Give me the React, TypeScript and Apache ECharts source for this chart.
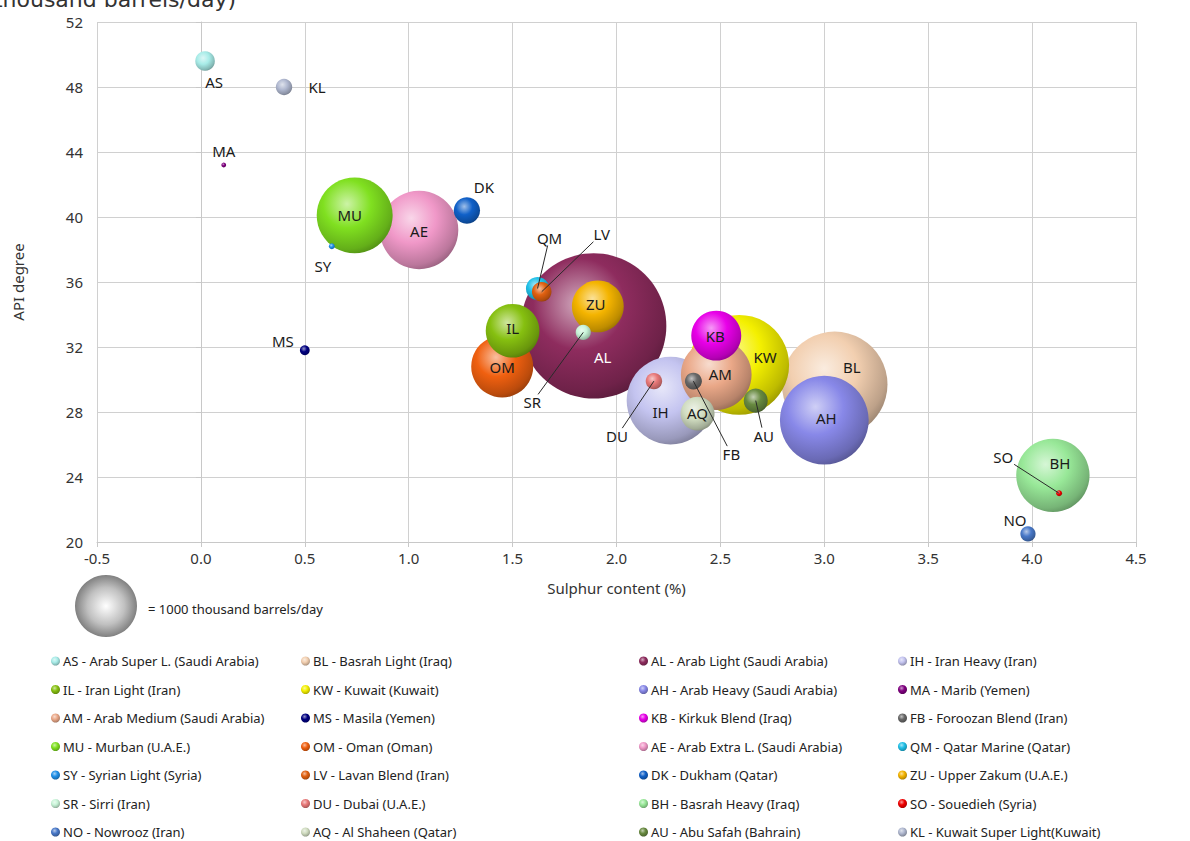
import React, { useEffect, useRef } from "react";
import * as echarts from "echarts";

const codes = ["AS","BL","AL","IH","IL","KW","AH","MA","AM","MS","KB","FB","MU","OM","AE","QM","SY","LV","DK","ZU","SR","DU","BH","SO","NO","AQ","AU","KL"];
const names = [
  "AS - Arab Super L. (Saudi Arabia)","BL - Basrah Light (Iraq)","AL - Arab Light (Saudi Arabia)","IH - Iran Heavy (Iran)",
  "IL - Iran Light (Iran)","KW - Kuwait (Kuwait)","AH - Arab Heavy (Saudi Arabia)","MA - Marib (Yemen)",
  "AM - Arab Medium (Saudi Arabia)","MS - Masila (Yemen)","KB - Kirkuk Blend (Iraq)","FB - Foroozan Blend (Iran)",
  "MU - Murban (U.A.E.)","OM - Oman (Oman)","AE - Arab Extra L. (Saudi Arabia)","QM - Qatar Marine (Qatar)",
  "SY - Syrian Light (Syria)","LV - Lavan Blend (Iran)","DK - Dukham (Qatar)","ZU - Upper Zakum (U.A.E.)",
  "SR - Sirri (Iran)","DU - Dubai (U.A.E.)","BH - Basrah Heavy (Iraq)","SO - Souedieh (Syria)",
  "NO - Nowrooz (Iran)","AQ - Al Shaheen (Qatar)","AU - Abu Safah (Bahrain)","KL - Kuwait Super Light(Kuwait)"
];
const sulphur = [0.02,3.05,1.89,2.26,1.5,2.59,3.0,0.11,2.48,0.5,2.48,2.37,0.74,1.45,1.05,1.62,0.63,1.64,1.28,1.91,1.84,2.18,4.1,4.13,3.98,2.39,2.67,0.4];
const api = [49.6,29.7,33.3,28.7,33.0,30.9,27.5,43.2,30.3,31.8,32.7,29.9,40.1,30.8,39.2,35.6,38.2,35.4,40.4,34.5,32.9,29.9,24.1,23.0,20.5,27.9,28.7,48.0];
const production = [100,2900,5500,2000,750,2600,2050,6,1300,25,650,75,1500,1000,1600,140,9,100,180,700,60,70,1400,9,60,300,150,70];
const xTicks = { min: -0.5, max: 4.5, step: 0.5 };
const yTicks = { min: 20, max: 52, step: 4 };
const refProduction = 1000;

// styling (not data)
const colors: Record<string, string> = {
  AS: "#a8ece8", BL: "#f2cfb0", AL: "#8e2c5e", IH: "#c4c4f0", IL: "#86c010", KW: "#f4f000", AH: "#8888e8",
  MA: "#800080", AM: "#eaa888", MS: "#000080", KB: "#e800e8", FB: "#686868", MU: "#80e020", OM: "#f06010",
  AE: "#f098c8", QM: "#20c0e8", SY: "#2090e8", LV: "#e06010", DK: "#1060c8", ZU: "#f4b400", SR: "#c8f4d8",
  DU: "#e87878", BH: "#98e898", SO: "#f00000", NO: "#4878c8", AQ: "#d0dcc0", AU: "#688a40", KL: "#b0b8d0"
};
const labelCfg: Record<string, { dx: number; dy: number; line?: boolean; color?: string }> = {
  AS: { dx: 9, dy: 21 }, KL: { dx: 33, dy: 0 }, MA: { dx: 0, dy: -14 }, SY: { dx: -9, dy: 20 },
  MU: { dx: -5, dy: 0 }, AE: { dx: 0, dy: 1 }, DK: { dx: 17, dy: -24 }, QM: { dx: 12, dy: -51, line: true },
  LV: { dx: 60, dy: -58, line: true }, IL: { dx: 0, dy: -3 }, OM: { dx: 0, dy: 0 }, AL: { dx: 9, dy: 31, color: "#ffffff" },
  ZU: { dx: -2, dy: -2 }, SR: { dx: -51, dy: 70, line: true }, IH: { dx: -10, dy: 11 }, DU: { dx: -37, dy: 55, line: true },
  AQ: { dx: 0, dy: -1 }, FB: { dx: 38, dy: 73, line: true }, AM: { dx: 4, dy: -1 }, KB: { dx: -1, dy: 0 },
  KW: { dx: 26, dy: -8 }, AU: { dx: 8, dy: 35, line: true }, BL: { dx: 17, dy: -17 }, AH: { dx: 2, dy: -2 },
  BH: { dx: 7, dy: -12 }, SO: { dx: -56, dy: -36, line: true }, NO: { dx: -13, dy: -14 }, MS: { dx: -22, dy: -9 }
};

const FONT = "Noto Sans";
const REF_R = 31;

function mix(hex: string, target: number, t: number) {
  const n = parseInt(hex.slice(1), 16);
  const r = (n >> 16) & 255, g = (n >> 8) & 255, b = n & 255;
  const f = (c: number) => Math.round(c + (target - c) * t);
  return `rgb(${f(r)},${f(g)},${f(b)})`;
}
function sphere(hex: string) {
  return {
    type: "radial", x: 0.4, y: 0.35, r: 0.7,
    colorStops: [
      { offset: 0, color: mix(hex, 255, 0.6) },
      { offset: 0.45, color: hex },
      { offset: 0.85, color: mix(hex, 0, 0.22) },
      { offset: 1, color: mix(hex, 0, 0.38) }
    ]
  };
}
const sizeOf = (v: number) => 2 * REF_R * Math.sqrt(v / refProduction);

export default function App() {
  const ref = useRef<HTMLDivElement>(null);
  useEffect(() => {
    document.body.style.margin = "0";
    const chart = echarts.init(ref.current!, null, { renderer: "svg" });
    const order = codes.map((_, i) => i).sort((a, b) => production[b] - production[a]);
    const series = order.map((i) => {
      const c = codes[i];
      const lc = labelCfg[c];
      return {
        type: "scatter",
        name: names[i],
        data: [[sulphur[i], api[i], production[i]]],
        symbol: "circle",
        symbolSize: (v: number[]) => Math.max(sizeOf(v[2]), 3),
        itemStyle: { color: sphere(colors[c]), opacity: 1 },
        emphasis: { disabled: true },
        label: {
          show: true,
          formatter: c,
          position: "inside",
          offset: [lc.dx, lc.dy],
          color: lc.color || "#1a1a1a",
          fontFamily: FONT,
          fontSize: 15
        }
      };
    });
    const cols = [0, 1, 2, 3].map((k) => names.filter((_, i) => i % 4 === k));
    const colLeft = [51, 301, 639, 898];
    const legends = cols.map((d, k) => ({
      data: d,
      orient: "vertical",
      left: colLeft[k],
      top: 654,
      padding: 0,
      icon: "circle",
      itemWidth: 9,
      itemHeight: 9,
      itemGap: 14.5,
      selectedMode: false,
      textStyle: { fontFamily: FONT, fontSize: 13, color: "#222", lineHeight: 14, padding: [0, 0, 0, -2] }
    }));
    const baseGraphic: any[] = [
      {
        id: "title", type: "text", x: 236, y: 10,
        style: { text: "Production (thousand barrels/day)", fontFamily: "DejaVu Sans", fontSize: 22, fill: "#333", textAlign: "right", textVerticalAlign: "bottom" }
      },
      {
        id: "refBubble", type: "circle", shape: { cx: 106, cy: 606, r: REF_R },
        style: {
          fill: { type: "radial", x: 0.5, y: 0.5, r: 0.5, colorStops: [
            { offset: 0, color: "#ffffff" }, { offset: 0.6, color: "#c0c0c0" }, { offset: 1, color: "#808080" }
          ] }
        }
      },
      {
        id: "refText", type: "text", x: 148, y: 609,
        style: { text: "= 1000 thousand barrels/day", fontFamily: FONT, fontSize: 13, fill: "#222", textVerticalAlign: "middle" }
      }
    ];
    chart.setOption({
      animation: false,
      grid: { left: 97, top: 22, right: 54, bottom: 299 },
      xAxis: {
        type: "value", min: xTicks.min, max: xTicks.max, interval: xTicks.step,
        name: "Sulphur content (%)", nameLocation: "middle", nameGap: 38,
        nameTextStyle: { fontFamily: FONT, fontSize: 15, color: "#333" },
        axisLine: { show: true, lineStyle: { color: "#c8c8c8" } },
        axisTick: { show: true, length: 5, lineStyle: { color: "#c8c8c8" } },
        axisLabel: { fontFamily: FONT, fontSize: 15, color: "#333", margin: 8, formatter: (v: number) => v.toFixed(1) },
        splitLine: { show: true, lineStyle: { color: "#d0d0d0" } }
      },
      yAxis: {
        type: "value", min: yTicks.min, max: yTicks.max, interval: yTicks.step,
        name: "API degree", nameLocation: "middle", nameGap: 72,
        nameTextStyle: { fontFamily: FONT, fontSize: 15, color: "#333" },
        axisLine: { show: true, lineStyle: { color: "#c8c8c8" } },
        axisTick: { show: true, length: 5, lineStyle: { color: "#c8c8c8" } },
        axisLabel: { fontFamily: FONT, fontSize: 15, color: "#333", margin: 14 },
        splitLine: { show: true, lineStyle: { color: "#d0d0d0" } }
      },
      legend: legends,
      graphic: baseGraphic,
      series
    });
    // leader lines from labels to their (small) bubbles, positioned via the chart's own scales
    const lines: any[] = [];
    codes.forEach((c, i) => {
      const lc = labelCfg[c];
      if (!lc.line) return;
      const p = chart.convertToPixel({ gridIndex: 0 }, [sulphur[i], api[i]]) as number[];
      const lx = p[0] + lc.dx, ly = p[1] + lc.dy;
      const vx = p[0] - lx, vy = p[1] - ly;
      const d = Math.hypot(vx, vy);
      const ux = vx / d, uy = vy / d;
      const t = Math.min(Math.abs(ux) > 1e-6 ? 11 / Math.abs(ux) : 1e9, Math.abs(uy) > 1e-6 ? 8 / Math.abs(uy) : 1e9);
      lines.push({
        id: "lead" + c, type: "line", z: 100, silent: true,
        shape: { x1: lx + ux * t, y1: ly + uy * t, x2: p[0], y2: p[1] },
        style: { stroke: "#2a2a2a", lineWidth: 1 }
      });
    });
    chart.setOption({ graphic: baseGraphic.concat(lines) });
    return () => chart.dispose();
  }, []);
  return <div ref={ref} style={{ width: 1190, height: 841 }} />;
}
